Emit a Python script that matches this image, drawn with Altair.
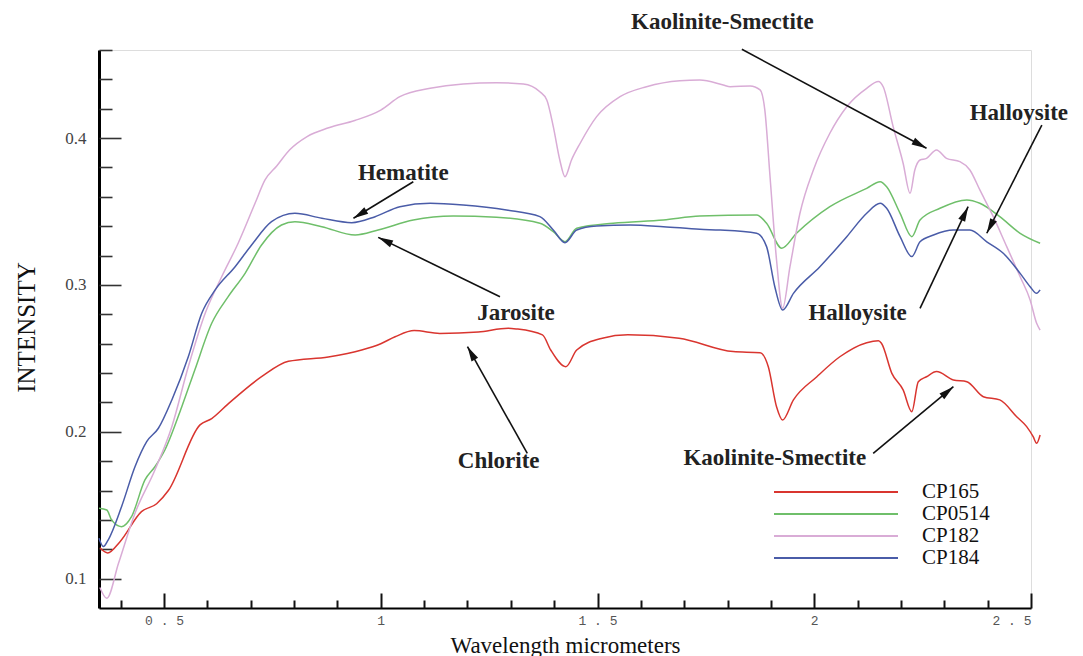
import math
import altair as alt
import pandas as pd

# ---------------- data ----------------
series_names = ["CP165", "CP0514", "CP182", "CP184"]
series_colors = ["#d9352f", "#6fbf6a", "#d9acd6", "#4a5ca8"]

cp165_wl = [0.352, 0.37, 0.398, 0.448, 0.483, 0.51, 0.583, 0.61, 0.648, 0.725, 0.787, 0.879, 0.956, 1.0,
            1.033, 1.077, 1.136, 1.225, 1.294, 1.314, 1.373, 1.392, 1.427, 1.452, 1.511, 1.57, 1.688,
            1.813, 1.875, 1.894, 1.913, 1.927, 1.952, 2.006, 2.059, 2.121, 2.148, 2.155, 2.179, 2.205,
            2.225, 2.24, 2.259, 2.282, 2.321, 2.352, 2.39, 2.428, 2.467, 2.49, 2.505, 2.513, 2.521]
cp165_int = [0.121, 0.1175, 0.125, 0.1456, 0.151, 0.16, 0.2047, 0.209, 0.219, 0.2375, 0.248, 0.251, 0.2557,
             0.260, 0.2647, 0.2689, 0.267, 0.268, 0.2705, 0.270, 0.266, 0.2557, 0.2443, 0.2557, 0.2637,
             0.266, 0.2637, 0.2546, 0.2539, 0.2443, 0.2171, 0.208, 0.2217, 0.2375, 0.2511, 0.2607, 0.262,
             0.2603, 0.2398, 0.2285, 0.2137, 0.2341, 0.2375, 0.241, 0.2353, 0.2341, 0.2239, 0.2217,
             0.2103, 0.2035, 0.1967, 0.1922, 0.1978]

cp0514_wl = [0.35, 0.368, 0.379, 0.402, 0.425, 0.456, 0.479, 0.502, 0.541, 0.571, 0.61, 0.648, 0.687, 0.725,
             0.771, 0.802, 0.864, 0.941, 0.994, 1.075, 1.167, 1.267, 1.367, 1.398, 1.425, 1.452, 1.536,
             1.652, 1.736, 1.867, 1.89, 1.925, 1.959, 2.036, 2.121, 2.152, 2.167, 2.198, 2.225, 2.244,
             2.29, 2.352, 2.382, 2.428, 2.475, 2.521]
cp0514_int = [0.1479, 0.1467, 0.14, 0.1354, 0.1422, 0.1672, 0.1762, 0.1876, 0.2171, 0.2421, 0.2739, 0.292,
              0.3079, 0.3272, 0.3408, 0.3431, 0.3397, 0.334, 0.3374, 0.3442, 0.3469, 0.3461, 0.342, 0.3363,
              0.3294, 0.3386, 0.342, 0.3442, 0.3469, 0.3476, 0.342, 0.325, 0.3352, 0.3533, 0.3658, 0.3703,
              0.3669, 0.3488, 0.3329, 0.3442, 0.3522, 0.3579, 0.3556, 0.3465, 0.3352, 0.3284]

cp182_wl = [0.352, 0.368, 0.395, 0.433, 0.479, 0.518, 0.556, 0.595, 0.633, 0.671, 0.71, 0.733, 0.76, 0.79,
            0.83, 0.88, 0.94, 1.0, 1.044, 1.114, 1.19, 1.267, 1.329, 1.367, 1.383, 1.398, 1.413, 1.425,
            1.44, 1.46, 1.498, 1.552, 1.613, 1.69, 1.736, 1.79, 1.806, 1.852, 1.875, 1.886, 1.898, 1.913,
            1.927, 1.944, 1.967, 1.998, 2.036, 2.075, 2.121, 2.148, 2.159, 2.182, 2.205, 2.221, 2.232,
            2.244, 2.259, 2.282, 2.305, 2.336, 2.359, 2.382, 2.413, 2.444, 2.475, 2.498, 2.513, 2.521]
cp182_int = [0.094, 0.0866, 0.1104, 0.1445, 0.174, 0.2035, 0.2443, 0.2807, 0.3056, 0.3284, 0.3556, 0.3715,
             0.381, 0.392, 0.401, 0.407, 0.412, 0.4191, 0.4282, 0.4339, 0.4369, 0.4377, 0.4369, 0.4316,
             0.426, 0.4078, 0.3851, 0.3737, 0.3851, 0.3965, 0.4146, 0.4282, 0.435, 0.4391, 0.4396, 0.4362,
             0.435, 0.4355, 0.4328, 0.4191, 0.3737, 0.317, 0.2841, 0.3124, 0.3488, 0.3783, 0.4033, 0.4214,
             0.4339, 0.4385, 0.435, 0.4078, 0.3829, 0.3624, 0.3783, 0.3851, 0.3862, 0.3919, 0.3862, 0.384,
             0.3783, 0.3647, 0.3465, 0.3261, 0.3056, 0.2898, 0.2739, 0.2693]

cp184_wl = [0.35, 0.36, 0.371, 0.402, 0.433, 0.46, 0.487, 0.518, 0.556, 0.587, 0.618, 0.664, 0.702, 0.748,
            0.802, 0.864, 0.933, 0.987, 1.044, 1.114, 1.19, 1.29, 1.367, 1.398, 1.425, 1.452, 1.498, 1.575,
            1.652, 1.736, 1.783, 1.867, 1.89, 1.909, 1.927, 1.952, 2.013, 2.075, 2.121, 2.152, 2.167, 2.198,
            2.225, 2.244, 2.275, 2.321, 2.359, 2.398, 2.436, 2.475, 2.498, 2.513, 2.521]
cp184_int = [0.1275, 0.1218, 0.1263, 0.149, 0.1762, 0.1933, 0.2024, 0.2217, 0.2511, 0.2807, 0.2966, 0.3124,
             0.3272, 0.3431, 0.3488, 0.3454, 0.3424, 0.3465, 0.3533, 0.3556, 0.3544, 0.351, 0.3465, 0.3374,
             0.3288, 0.3374, 0.3401, 0.3408, 0.3397, 0.3379, 0.3374, 0.3352, 0.3261, 0.2988, 0.2829, 0.2943,
             0.3124, 0.3329, 0.3488, 0.3556, 0.3522, 0.3329, 0.3193, 0.3294, 0.334, 0.3374, 0.3374, 0.3294,
             0.3216, 0.3079, 0.2988, 0.2943, 0.2966]

# axis tick values
x_label_values = [0.5, 1.0, 1.5, 2.0, 2.5]
x_tick_values = [0.4, 0.5, 0.6, 0.7, 0.8, 0.9, 1.0, 1.1, 1.2, 1.3, 1.4, 1.5, 1.6, 1.7, 1.8, 1.9,
                 2.0, 2.1, 2.2, 2.3, 2.4, 2.5]
y_label_values = [0.1, 0.2, 0.3, 0.4]
y_tick_values = [0.1, 0.12, 0.14, 0.16, 0.18, 0.2, 0.22, 0.24, 0.26, 0.28, 0.3, 0.32, 0.34, 0.36,
                 0.38, 0.4, 0.42, 0.44, 0.46]

# annotations (data units)
ann_text = ["Kaolinite-Smectite", "Hematite", "Jarosite", "Chlorite", "Kaolinite-Smectite",
            "Halloysite", "Halloysite"]
ann_x = [1.788, 1.052, 1.312, 1.272, 1.909, 2.100, 2.472]
ann_y = [0.4793, 0.376, 0.2807, 0.1801, 0.1819, 0.2807, 0.4169]
arrow_x1 = [1.833, 1.075, 1.275, 1.338, 2.136, 2.244, 2.525]
arrow_y1 = [0.4605, 0.3703, 0.292, 0.1853, 0.1853, 0.2841, 0.4089]
arrow_x2 = [2.259, 0.937, 0.994, 1.200, 2.321, 2.355, 2.398]
arrow_y2 = [0.3931, 0.3454, 0.3324, 0.258, 0.2307, 0.3533, 0.3352]

# ---------------- layout ----------------
W, H = 932, 558
X_DOM = [0.35, 2.5]
Y_DOM = [0.08, 0.46]

frames = []
for name, wl, it in [("CP165", cp165_wl, cp165_int), ("CP0514", cp0514_wl, cp0514_int),
                     ("CP182", cp182_wl, cp182_int), ("CP184", cp184_wl, cp184_int)]:
    frames.append(pd.DataFrame({"wavelength": wl, "intensity": it, "series": name,
                                "order": list(range(len(wl)))}))
lines_df = pd.concat(frames, ignore_index=True)

ppx = W / (X_DOM[1] - X_DOM[0])
ppy = H / (Y_DOM[1] - Y_DOM[0])
angles = [math.degrees(math.atan2((b - a) * ppx, (d - c) * ppy)) % 360
          for a, b, c, d in zip(arrow_x1, arrow_x2, arrow_y1, arrow_y2)]
arrows_df = pd.DataFrame({"x1": arrow_x1, "y1": arrow_y1, "x2": arrow_x2, "y2": arrow_y2,
                          "angle": angles})
text_df = pd.DataFrame({"label": ann_text, "tx": ann_x, "ty": ann_y})

x_scale = alt.Scale(domain=X_DOM, nice=False, zero=False)
y_scale = alt.Scale(domain=Y_DOM, nice=False, zero=False)
color_scale = alt.Scale(domain=series_names, range=series_colors)

lines = alt.Chart(lines_df).mark_line(strokeWidth=1.5, interpolate="monotone").encode(
    x=alt.X("wavelength:Q", scale=x_scale,
            axis=alt.Axis(values=x_label_values, ticks=False, grid=False, domainColor="#000",
                          domainWidth=2, format="~g", labelExpr="replace(datum.label, '.', ' . ')",
                          labelFont="Liberation Mono", labelFontSize=13, labelColor="#555",
                          labelPadding=6, title="Wavelength micrometers", titleFont="Liberation Serif",
                          titleFontSize=23, titleFontWeight="normal", titleColor="#111",
                          titleBaseline="alphabetic", titleY=44)),
    y=alt.Y("intensity:Q", scale=y_scale,
            axis=alt.Axis(values=y_label_values, ticks=False, grid=False, domainColor="#000",
                          domainWidth=3, format=".1f", labelFont="Liberation Serif", labelFontSize=17,
                          labelColor="#444", labelPadding=13, title="INTENSITY",
                          titleFont="Liberation Serif", titleFontSize=25, titleFontWeight="normal",
                          titleColor="#111", titleAngle=270, titleX=-73, titleY=277,
                          titleAlign="center", titleBaseline="middle")),
    color=alt.Color("series:N", scale=color_scale, sort=series_names,
                    legend=alt.Legend(title=None, orient="none", legendX=674, legendY=431,
                                      symbolType="stroke", symbolSize=15376, symbolStrokeWidth=1.8,
                                      clipHeight=22, rowPadding=0, padding=0, symbolOffset=0,
                                      labelFont="Liberation Serif", labelFontSize=21,
                                      labelColor="#111", labelOffset=23)),
    order="order:Q",
)

arrows = alt.Chart(arrows_df).mark_rule(color="#111", strokeWidth=1.6).encode(
    x=alt.X("x1:Q", scale=x_scale,
            axis=alt.Axis(orient="top", offset=-H, values=x_tick_values, labels=False, domain=False,
                          grid=False, tickColor="#111", tickWidth=2,
                          tickSize={"condition": {"test": "abs(datum.value*2 - round(datum.value*2)) < 0.001",
                                                  "value": 15}, "value": 8},
                          title=None)),
    y=alt.Y("y1:Q", scale=y_scale,
            axis=alt.Axis(orient="right", offset=-W, values=y_tick_values, labels=False, domain=False,
                          grid=False, tickColor="#333", tickWidth=1.6,
                          tickSize={"condition": {"test": "abs(datum.value*10 - round(datum.value*10)) < 0.001",
                                                  "value": 22}, "value": 13},
                          title=None)),
    x2="x2:Q",
    y2="y2:Q",
)

heads = alt.Chart(arrows_df).mark_point(shape="M0,0L0.5,2L-0.5,2Z", filled=True, size=225,
                                        color="#111", opacity=1).encode(
    x=alt.X("x2:Q", scale=x_scale, axis=None),
    y=alt.Y("y2:Q", scale=y_scale, axis=None),
    angle=alt.Angle("angle:Q", scale=None),
)

texts = alt.Chart(text_df).mark_text(font="Liberation Serif", fontSize=23, fontWeight="bold",
                                     color="#222", align="center", baseline="middle").encode(
    x=alt.X("tx:Q", scale=x_scale, axis=None),
    y=alt.Y("ty:Q", scale=y_scale, axis=None),
    text="label:N",
)

chart = alt.layer(lines, arrows, heads, texts).resolve_axis(
    x="independent", y="independent"
).properties(
    width=W, height=H,
    autosize=alt.AutoSizeParams(type="none"),
    padding={"left": 91, "top": 42, "right": 44, "bottom": 50},
).configure_view(strokeWidth=0).configure(background="white")

chart.save("out.html", embed_options={"renderer": "svg", "actions": False})
